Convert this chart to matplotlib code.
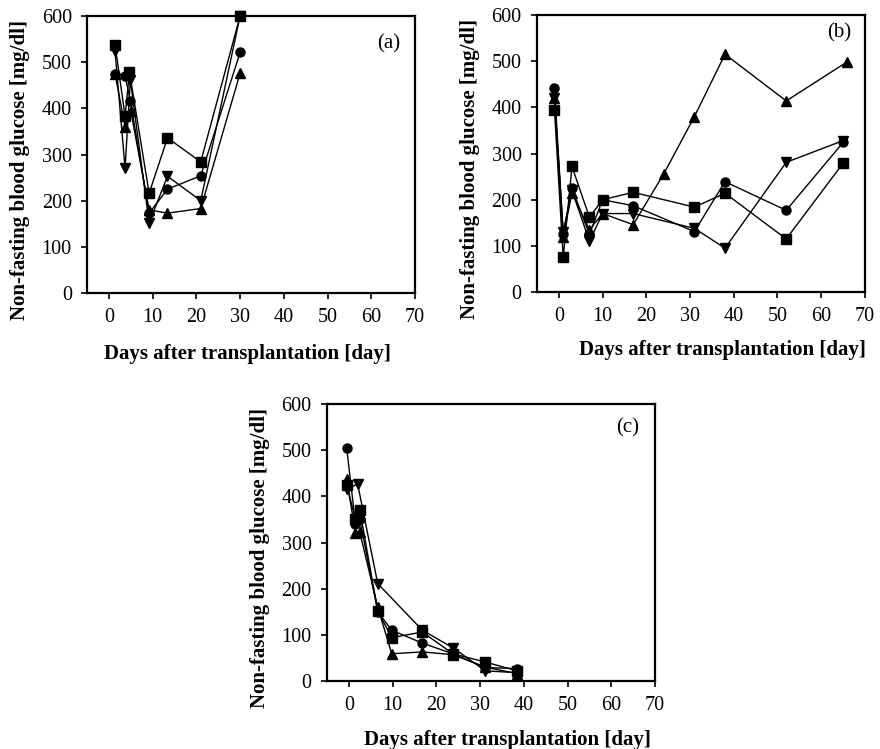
import matplotlib
matplotlib.use("Agg")
import matplotlib.pyplot as plt

plt.rcParams['font.family'] = ['Liberation Serif', 'DejaVu Serif']

# Panel (a)
a_sq_x = [1.4, 3.7, 4.7, 9.2, 13.4, 21, 30]
a_sq_y = [538, 383, 479, 216, 336, 284, 600]
a_ci_x = [1.4, 3.7, 4.9, 9.2, 13.4, 21, 30]
a_ci_y = [475, 470, 417, 173, 225, 254, 521]
a_up_x = [1.4, 3.7, 5.0, 9.2, 13.4, 21, 30]
a_up_y = [475, 360, 395, 180, 173, 183, 476]
a_dn_x = [1.4, 3.7, 4.9, 9.2, 13.4, 21, 30]
a_dn_y = [525, 270, 462, 152, 253, 200, 600]

# Panel (b)
b_sq_x = [-1, 1, 3, 7, 10, 17, 31, 38, 52, 65]
b_sq_y = [394, 75, 272, 162, 200, 216, 184, 214, 115, 279]
b_ci_x = [-1, 1, 3, 7, 10, 17, 31, 38, 52, 65]
b_ci_y = [441, 125, 225, 125, 200, 187, 131, 239, 177, 324]
b_up_x = [-1, 1, 3, 7, 10, 17, 24, 31, 38, 52, 66]
b_up_y = [420, 120, 215, 135, 170, 146, 256, 380, 515, 414, 499]
b_dn_x = [-1, 1, 3, 7, 10, 17, 31, 38, 52, 65]
b_dn_y = [420, 130, 220, 110, 170, 170, 138, 95, 281, 328]

# Panel (c)
c_sq_x = [-0.5, 1.5, 2.5, 6.6, 9.8, 16.8, 23.8, 31.2, 38.5]
c_sq_y = [425, 350, 370, 152, 94, 106, 59, 41, 22]
c_ci_x = [-0.5, 1.5, 2.5, 6.6, 9.8, 16.8, 23.8, 31.2, 38.5]
c_ci_y = [505, 341, 350, 150, 110, 82, 59, 29, 27]
c_up_x = [-0.5, 1.5, 2.5, 6.6, 9.8, 16.8, 23.8, 31.2, 38.5]
c_up_y = [437, 321, 322, 160, 59, 63, 57, 30, 16]
c_dn_x = [-0.5, 2.0, 6.6, 16.8, 23.8, 31.2, 38.5]
c_dn_y = [415, 427, 211, 110, 72, 22, 18]

xticks = [0, 10, 20, 30, 40, 50, 60, 70]
yticks = [0, 100, 200, 300, 400, 500, 600]
ylabel = "Non-fasting blood glucose [mg/dl]"
xlabel = "Days after transplantation [day]"

fig = plt.figure(figsize=(8.8, 7.49), dpi=100)

panels = [
    ("(a)", [0.0989, 0.6088, 0.3727, 0.3698],
     [(a_sq_x, a_sq_y, 's'), (a_ci_x, a_ci_y, 'o'), (a_up_x, a_up_y, '^'), (a_dn_x, a_dn_y, 'v')],
     (0.281, 0.527), (0.023, 0.773), (0.92, 0.90)),
    ("(b)", [0.6102, 0.6101, 0.3727, 0.3698],
     [(b_sq_x, b_sq_y, 's'), (b_ci_x, b_ci_y, 'o'), (b_up_x, b_up_y, '^'), (b_dn_x, b_dn_y, 'v')],
     (0.821, 0.533), (0.534, 0.774), (0.92, 0.935)),
    ("(c)", [0.3716, 0.0908, 0.3727, 0.3698],
     [(c_sq_x, c_sq_y, 's'), (c_ci_x, c_ci_y, 'o'), (c_up_x, c_up_y, '^'), (c_dn_x, c_dn_y, 'v')],
     (0.577, 0.012), (0.296, 0.255), (0.917, 0.913)),
]

for tag, rect, series, xl, yl, tagpos in panels:
    ax = fig.add_axes(rect)
    for xs, ys, m in series:
        ax.plot(xs, ys, color='black', lw=1.0, marker=m, ms=6.5, mfc='black', mec='black',
                clip_on=False, zorder=3)
    ax.set_xlim(-5, 70)
    ax.set_ylim(0, 600)
    ax.set_xticks(xticks)
    ax.set_yticks(yticks)
    ax.tick_params(direction='out', length=4, width=1.2, labelsize=14.5, pad=7)
    for s in ax.spines.values():
        s.set_linewidth(1.6)
    ax.text(tagpos[0], tagpos[1], tag, transform=ax.transAxes, ha='center', va='center',
            fontsize=15)
    fig.text(xl[0], xl[1], xlabel, ha='center', va='center', fontsize=15, fontweight='bold')
    fig.text(yl[0], yl[1], ylabel, ha='center', va='center', rotation=90, fontsize=15,
             fontweight='bold')

fig.savefig("out.png", dpi=100)
